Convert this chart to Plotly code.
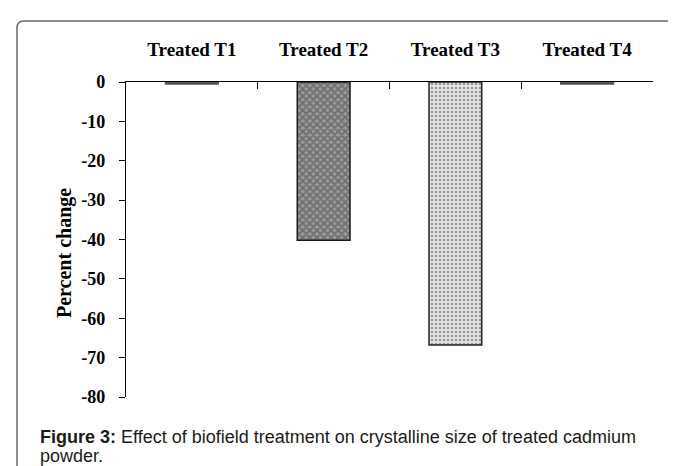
import plotly.graph_objects as go

# ---- data ----
categories = ["Treated T1", "Treated T2", "Treated T3", "Treated T4"]
percent_change = [-0.5, -40.2, -66.8, -0.5]
y_ticks = [0, -10, -20, -30, -40, -50, -60, -70, -80]
y_title = "Percent change"
caption_lines = [
    "<b>Figure 3:</b> Effect of biofield treatment on crystalline size of treated cadmium",
    "powder.",
]

# ---- layout geometry (pixels) ----
W, H = 676, 466
L, R, T, B = 118, 31, 74, 77
PW, PH = W - L - R, H - T - B


def px(x):
    return (x - L) / PW


def py(y):
    return (H - B - y) / PH


fig = go.Figure()
fig.add_trace(go.Bar(
    x=categories,
    y=percent_change,
    width=0.4,
    marker=dict(
        color=["#555555", "#9a9a9a", "#e6e6e6", "#555555"],
        line=dict(color=["#555555", "#1a1a1a", "#222222", "#555555"], width=1.5),
        pattern=dict(
            shape=["", "x", ".", ""],
            fgcolor=["#555555", "#1e1e1e", "#3a3a3a", "#555555"],
            bgcolor=["#555555", "#e8e8e8", "#f0f0f0", "#555555"],
            size=[6, 5, 4, 6],
            solidity=[0.3, 0.6, 0.35, 0.3],
        ),
    ),
    showlegend=False,
    hoverinfo="x+y",
))

tick_font = dict(family="Liberation Serif", size=18, color="black", weight="bold")
cat_font = dict(family="Liberation Serif", size=19, color="black", weight="bold")

fig.update_xaxes(
    type="category",
    side="top",
    showline=True, linecolor="black", linewidth=1.2,
    ticks="inside", ticklen=7, tickcolor="black", tickwidth=1.2,
    tickson="boundaries",
    ticklabelstandoff=17,
    tickfont=cat_font,
    showgrid=False, zeroline=False,
    fixedrange=True,
)
fig.update_yaxes(
    range=[-80, 0],
    tickvals=y_ticks,
    ticktext=[str(v) for v in y_ticks],
    showline=True, linecolor="black", linewidth=1.2,
    ticks="outside", ticklen=6, tickcolor="black", tickwidth=1.2,
    ticklabelstandoff=10,
    tickfont=tick_font,
    showgrid=False, zeroline=False,
    fixedrange=True,
)

# frame border with rounded top-left corner
bx, by, bb, br, rad = 9, 13, 480, 690, 7
path = (f"M {px(bx)},{py(bb)} L {px(bx)},{py(by + rad)} "
        f"Q {px(bx)},{py(by)} {px(bx + rad)},{py(by)} L {px(br)},{py(by)}")
fig.add_shape(type="path", path=path, xref="paper", yref="paper",
              line=dict(color="#6a6a6a", width=1.5), layer="below")

fig.add_annotation(
    text=y_title, textangle=-90,
    xref="paper", yref="paper", x=px(56), y=py(245),
    xanchor="center", yanchor="middle", showarrow=False,
    font=dict(family="Liberation Serif", size=20, color="black", weight="bold"),
)
for i, line in enumerate(caption_lines):
    fig.add_annotation(
        text=line,
        xref="paper", yref="paper", x=px(30), y=py(429 + 19 * i),
        xanchor="left", yanchor="middle", align="left", showarrow=False,
        font=dict(family="Liberation Sans", size=18, color="#1a1a1a"),
    )

fig.update_layout(
    width=W, height=H,
    margin=dict(l=L, r=R, t=T, b=B, autoexpand=False),
    plot_bgcolor="white", paper_bgcolor="white",
    bargap=0.6,
)

fig.write_html("out.html")
